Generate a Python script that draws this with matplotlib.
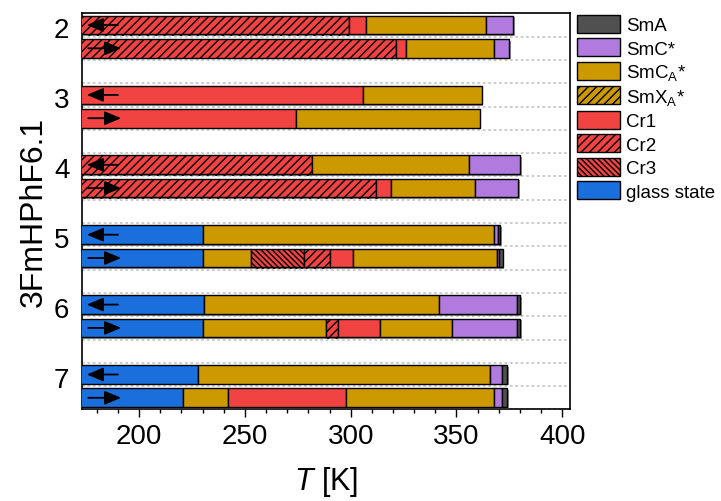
import matplotlib
matplotlib.use("Agg")
import matplotlib.pyplot as plt
import matplotlib.patheffects as pe
from matplotlib.patches import Patch
from matplotlib.ticker import MultipleLocator
import numpy as np

plt.rcParams['font.family'] = ['Liberation Sans', 'DejaVu Sans']
plt.rcParams['mathtext.fontset'] = 'custom'
plt.rcParams['mathtext.rm'] = 'Liberation Sans'
plt.rcParams['mathtext.it'] = 'Liberation Sans:italic'
plt.rcParams['hatch.linewidth'] = 1.0

# homologues (n of 3FmHPhF6.n) and phase sequences, cooling / heating
compounds = ['2', '3', '4', '5', '6', '7']
T_start = 165

cooling_phases = [
    ['Cr2', 'Cr1', 'SmCA', 'SmC'],
    ['Cr1', 'SmCA'],
    ['Cr2', 'SmCA', 'SmC'],
    ['glass', 'SmCA', 'SmC', 'SmA'],
    ['glass', 'SmCA', 'SmC', 'SmA'],
    ['glass', 'SmCA', 'SmC', 'SmA'],
]
cooling_bounds = [
    [299.2, 307.1, 363.8, 376.9],
    [306.0, 361.9],
    [281.9, 356.1, 380.0],
    [230.1, 367.9, 369.6, 370.6],
    [230.9, 341.9, 378.7, 380.0],
    [228.0, 365.9, 371.7, 374.0],
]
heating_phases = [
    ['Cr2', 'Cr1', 'SmCA', 'SmC'],
    ['Cr1', 'SmCA'],
    ['Cr2', 'Cr1', 'SmCA', 'SmC'],
    ['glass', 'SmCA', 'Cr3', 'Cr2', 'Cr1', 'SmCA', 'SmC', 'SmA'],
    ['glass', 'SmCA', 'Cr2', 'Cr1', 'SmCA', 'SmC', 'SmA'],
    ['glass', 'SmCA', 'Cr1', 'SmCA', 'SmC', 'SmA'],
]
heating_bounds = [
    [321.3, 326.0, 367.9, 375.0],
    [274.0, 361.0],
    [312.0, 318.9, 358.9, 379.2],
    [230.1, 252.9, 278.1, 290.0, 301.0, 369.0, 370.1, 371.8],
    [230.1, 288.2, 294.2, 314.0, 348.0, 378.7, 380.0],
    [220.9, 241.9, 297.8, 367.9, 371.7, 374.0],
]

# phase -> (face colour, hatch, legend label)
styles = {
    'SmA':   ('#505050', None, 'SmA'),
    'SmC':   ('#B07ADE', None, 'SmC*'),
    'SmCA':  ('#CC9900', None, 'SmC$_\\mathregular{A}$*'),
    'SmXA':  ('#CC9900', '////', 'SmX$_\\mathregular{A}$*'),
    'Cr1':   ('#F24343', None, 'Cr1'),
    'Cr2':   ('#F24343', '////', 'Cr2'),
    'Cr3':   ('#F24343', '\\\\\\\\\\\\', 'Cr3'),
    'glass': ('#1A6FDC', None, 'glass state'),
}

fig = plt.figure(figsize=(7.21, 5.02), dpi=100)
ax = fig.add_axes([0.1137, 0.1833, 0.677, 0.789])

shadow = [pe.SimplePatchShadow(offset=(1.2, -1.2), shadow_rgbFace='0.3', alpha=0.6), pe.Normal()]


def draw_bar(y, phases, bounds):
    left = T_start
    for ph, right in zip(phases, bounds):
        color, hatch, _ = styles[ph]
        ax.barh(y, right - left, left=left, height=0.8, color=color, hatch=hatch,
                edgecolor='black', linewidth=1.0, path_effects=shadow, zorder=3)
        left = right


for i in range(len(compounds)):
    yc = 3 * i
    draw_bar(yc, cooling_phases[i], cooling_bounds[i])
    draw_bar(yc + 1, heating_phases[i], heating_bounds[i])
    ax.annotate('', xy=(175.3, yc), xytext=(190, yc),
                arrowprops=dict(arrowstyle='-|>,head_length=1.0,head_width=0.42',
                                color='black', lw=1.3, shrinkA=0, shrinkB=0,
                                mutation_scale=10), zorder=5)
    ax.annotate('', xy=(191.5, yc + 1), xytext=(176, yc + 1),
                arrowprops=dict(arrowstyle='-|>,head_length=1.0,head_width=0.42',
                                color='black', lw=1.3, shrinkA=0, shrinkB=0,
                                mutation_scale=10), zorder=5)

# dotted separators between the rows
for yg in np.arange(-0.5, 3 * len(compounds), 1.0):
    ax.axhline(yg, color='#C8C8C8', lw=1.3, ls=(0, (1.5, 1.5)), zorder=1)

ax.set_xlim(173, 403.7)
ax.set_ylim(16.48, -0.52)
ax.xaxis.set_major_locator(MultipleLocator(50))
ax.xaxis.set_minor_locator(MultipleLocator(10))
ax.tick_params(axis='x', which='major', direction='out', length=6, width=1.0,
               labelsize=20, pad=4)
ax.tick_params(axis='x', which='minor', direction='out', length=3, width=1.0)
ax.set_yticks([3 * i + 0.1 for i in range(len(compounds))])
ax.set_yticklabels(compounds)
ax.tick_params(axis='y', length=0, labelsize=20, pad=9)
for sp in ax.spines.values():
    sp.set_linewidth(1.2)

ax.set_xlabel('$\\mathit{T}$ [K]', fontsize=22, labelpad=11)
ax.set_ylabel('3FmHPhF6.1', fontsize=23, labelpad=4)

handles = [Patch(facecolor=c, hatch=h, edgecolor='black', linewidth=1.0, label=lab)
           for c, h, lab in styles.values()]
fig.legend(handles=handles, loc='upper left', bbox_to_anchor=(0.782, 0.995),
           frameon=False, fontsize=13.5, handlelength=2.3, handleheight=1.1,
           handletextpad=0.3, labelspacing=0.22, borderpad=0.2)

fig.savefig('out.png', dpi=100)
